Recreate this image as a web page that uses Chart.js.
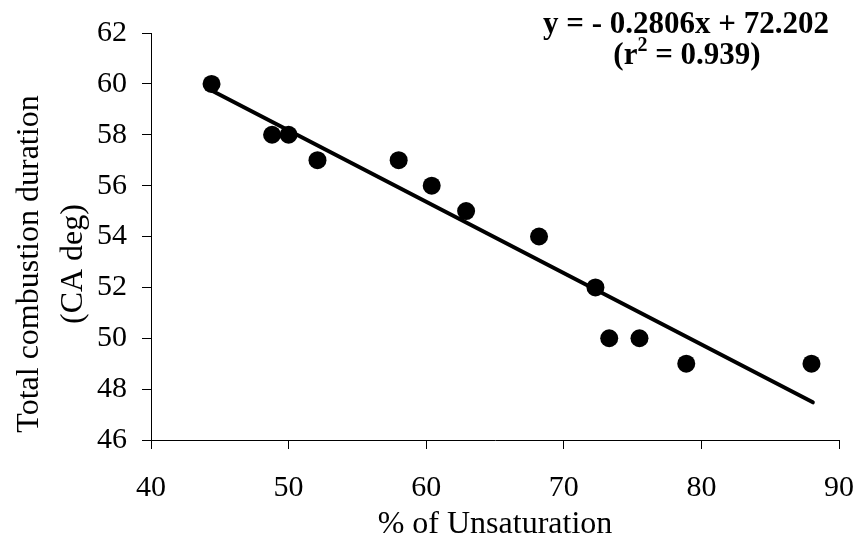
<!DOCTYPE html>
<html>
<head>
<meta charset="utf-8">
<script src="https://cdn.jsdelivr.net/npm/chart.js@4.4.0/dist/chart.umd.min.js"></script>
<style>
  html, body { margin: 0; padding: 0; background: #fff; }
  #wrap { width: 859px; height: 538px; }
</style>
</head>
<body>
<div id="wrap"><canvas id="chart" width="859" height="538"></canvas></div>
<script>
// % of unsaturation vs total combustion duration
const unsaturation = [44.4, 48.8, 50.0, 52.1, 58.0, 60.4, 62.9, 68.2, 72.3, 73.3, 75.5, 78.9, 88.0];
const duration = [60, 58, 58, 57, 57, 56, 55, 54, 52, 50, 50, 49, 49];

// linear fit shown on the chart
const fitSlope = -0.2806;
const fitIntercept = 72.202;
const fitRange = [44.3, 88.1];

const xTicks = [40, 50, 60, 70, 80, 90];
const yTicks = [46, 48, 50, 52, 54, 56, 58, 60, 62];

const serif = '"Liberation Serif", "Times New Roman", serif';

const points = unsaturation.map((x, i) => ({ x: x, y: duration[i] }));
const fitLine = fitRange.map(x => ({ x: x, y: fitSlope * x + fitIntercept }));

// equation + y title drawn as text on the canvas
const textPlugin = {
    id: 'extraText',
    afterDraw(chart) {
        const ctx = chart.ctx;
        ctx.save();
        ctx.fillStyle = '#000';
        ctx.textBaseline = 'alphabetic';

        // equation
        ctx.font = 'bold 31px ' + serif;
        ctx.textAlign = 'center';
        ctx.fillText('y = - 0.2806x + 72.202', 686, 33);

        // (r² = 0.939)
        ctx.textAlign = 'left';
        const a = '(r', b = '2', c = ' = 0.939)';
        const supFont = 'bold 20px ' + serif;
        const wa = ctx.measureText(a).width;
        const wc = ctx.measureText(c).width;
        ctx.font = supFont;
        const wb = ctx.measureText(b).width;
        let x = 687 - (wa + wb + wc) / 2;
        ctx.font = 'bold 31px ' + serif;
        ctx.fillText(a, x, 64);
        ctx.font = supFont;
        ctx.fillText(b, x + wa, 51);
        ctx.font = 'bold 31px ' + serif;
        ctx.fillText(c, x + wa + wb, 64);

        // y axis title (two lines)
        ctx.font = '32px ' + serif;
        ctx.textAlign = 'center';
        ctx.translate(0, 264);
        ctx.rotate(-Math.PI / 2);
        ctx.fillText('Total combustion duration', 0, 38);
        ctx.fillText('(CA deg)', 0, 82);
        ctx.restore();
    }
};

new Chart(document.getElementById('chart'), {
    type: 'scatter',
    data: {
        datasets: [
            {
                label: 'data',
                data: points,
                pointRadius: 9,
                pointHoverRadius: 9,
                pointBackgroundColor: '#000',
                pointBorderWidth: 0,
                showLine: false
            },
            {
                label: 'fit',
                data: fitLine,
                showLine: true,
                pointRadius: 0,
                borderColor: '#000',
                borderWidth: 4,
                borderCapStyle: 'round'
            }
        ]
    },
    options: {
        responsive: false,
        animation: false,
        layout: { padding: { top: 32, right: 20, left: 0, bottom: 0 } },
        plugins: {
            legend: { display: false },
            tooltip: { enabled: false }
        },
        scales: {
            x: {
                type: 'linear',
                min: 40,
                max: 90,
                afterBuildTicks: axis => { axis.ticks = xTicks.map(v => ({ value: v })); },
                afterFit: axis => {
                    axis.height = 98;
                    axis.paddingLeft = 0;
                    axis.paddingRight = 0;
                },
                ticks: { color: '#000', font: { family: serif, size: 30 }, padding: 21 },
                border: { display: true, color: '#000', width: 1 },
                grid: { drawOnChartArea: false, drawTicks: true, tickLength: 9, tickColor: '#000' },
                title: {
                    display: true,
                    text: '% of Unsaturation',
                    color: '#000',
                    font: { family: serif, size: 32, lineHeight: 1 },
                    padding: { top: 0, bottom: -3 }
                }
            },
            y: {
                type: 'linear',
                min: 46,
                max: 62,
                afterBuildTicks: axis => { axis.ticks = yTicks.map(v => ({ value: v })); },
                afterFit: axis => { axis.width = 151; },
                ticks: { color: '#000', font: { family: serif, size: 30 }, padding: 15 },
                border: { display: true, color: '#000', width: 1 },
                grid: { drawOnChartArea: false, drawTicks: true, tickLength: 9, tickColor: '#000' }
            }
        }
    },
    plugins: [textPlugin]
});
</script>
</body>
</html>
